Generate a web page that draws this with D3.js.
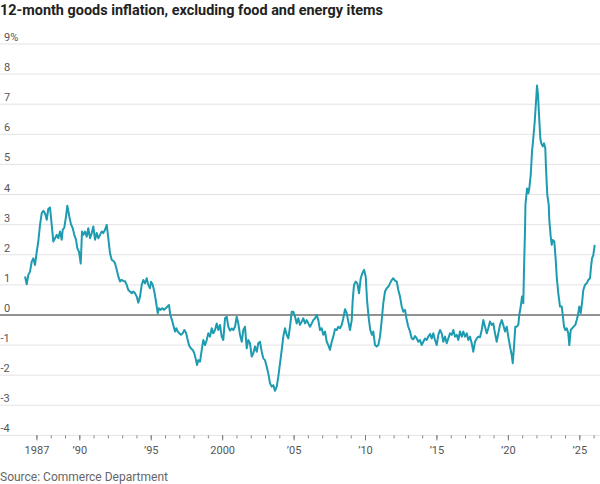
<!DOCTYPE html>
<html>
<head>
<meta charset="utf-8">
<script src="https://cdn.jsdelivr.net/npm/d3@7"></script>
<style>
  html, body { margin: 0; padding: 0; background: #fff; }
  svg { display: block; }
  text { font-family: Roboto, "Noto Sans", sans-serif; }
</style>
</head>
<body>
<svg id="chart" width="600" height="484"></svg>
<script>
// ---- Data ----
const title = "12-month goods inflation, excluding food and energy items";
const source = "Source: Commerce Department";

const yTicks = [9, 8, 7, 6, 5, 4, 3, 2, 1, 0, -1, -2, -3, -4];
const xLabelYears = [1987, 1990, 1995, 2000, 2005, 2010, 2015, 2020, 2025];
const xLabels = ["1987", "’90", "’95", "2000", "’05", "’10", "’15", "’20", "’25"];
const minorYears = d3.range(1987, 2027);

const dates = [
1986.20,1986.32,1986.43,1986.55,1986.67,1986.78,1986.90,1987.02,1987.13,1987.25,
1987.37,1987.48,1987.60,1987.72,1987.83,1987.95,1988.07,1988.18,1988.30,1988.42,
1988.53,1988.65,1988.77,1988.84,1988.95,1989.07,1989.16,1989.30,1989.42,1989.54,
1989.65,1989.77,1989.86,1989.98,1990.10,1990.19,1990.28,1990.40,1990.52,1990.63,
1990.75,1990.87,1990.98,1991.10,1991.22,1991.33,1991.45,1991.57,1991.68,1991.80,
1991.92,1992.03,1992.15,1992.27,1992.38,1992.50,1992.62,1992.73,1992.85,1992.97,
1993.08,1993.20,1993.32,1993.43,1993.55,1993.67,1993.78,1993.90,1994.02,1994.13,
1994.25,1994.37,1994.48,1994.60,1994.72,1994.83,1994.95,1995.02,1995.14,1995.25,
1995.37,1995.49,1995.58,1995.70,1995.81,1995.93,1996.05,1996.16,1996.28,1996.37,
1996.49,1996.61,1996.70,1996.79,1996.89,1997.00,1997.12,1997.24,1997.35,1997.47,
1997.59,1997.70,1997.82,1997.94,1998.05,1998.17,1998.24,1998.33,1998.45,1998.57,
1998.68,1998.80,1998.92,1999.03,1999.15,1999.27,1999.38,1999.50,1999.62,1999.73,
1999.85,1999.97,2000.08,2000.20,2000.32,2000.43,2000.55,2000.67,2000.78,2000.90,
2001.02,2001.13,2001.25,2001.37,2001.48,2001.60,2001.72,2001.83,2001.95,2002.07,
2002.18,2002.30,2002.42,2002.53,2002.65,2002.77,2002.88,2003.00,2003.12,2003.23,
2003.35,2003.47,2003.58,2003.70,2003.82,2003.93,2004.05,2004.17,2004.28,2004.40,
2004.52,2004.63,2004.75,2004.87,2004.98,2005.10,2005.22,2005.33,2005.45,2005.57,
2005.68,2005.80,2005.92,2006.03,2006.15,2006.27,2006.38,2006.50,2006.62,2006.73,
2006.85,2006.97,2007.08,2007.20,2007.32,2007.43,2007.55,2007.67,2007.78,2007.90,
2008.02,2008.13,2008.25,2008.37,2008.48,2008.60,2008.72,2008.83,2008.95,2009.07,
2009.14,2009.23,2009.35,2009.46,2009.58,2009.70,2009.81,2009.93,2010.05,2010.14,
2010.26,2010.37,2010.49,2010.58,2010.70,2010.82,2010.93,2011.05,2011.17,2011.28,
2011.40,2011.52,2011.63,2011.75,2011.87,2011.98,2012.10,2012.22,2012.33,2012.45,
2012.57,2012.68,2012.80,2012.92,2013.03,2013.15,2013.27,2013.38,2013.50,2013.62,
2013.73,2013.85,2013.97,2014.08,2014.20,2014.32,2014.43,2014.55,2014.67,2014.78,
2014.90,2015.02,2015.13,2015.25,2015.37,2015.48,2015.60,2015.72,2015.83,2015.95,
2016.07,2016.18,2016.30,2016.42,2016.53,2016.65,2016.77,2016.88,2017.00,2017.12,
2017.23,2017.35,2017.47,2017.58,2017.70,2017.82,2017.93,2018.05,2018.17,2018.28,
2018.40,2018.52,2018.63,2018.75,2018.87,2018.98,2019.10,2019.22,2019.33,2019.45,
2019.57,2019.68,2019.80,2019.92,2020.03,2020.15,2020.27,2020.34,2020.43,2020.52,
2020.62,2020.73,2020.80,2020.90,2020.99,2021.08,2021.13,2021.20,2021.23,2021.34,
2021.43,2021.50,2021.60,2021.69,2021.78,2021.88,2021.97,2022.04,2022.11,2022.18,
2022.27,2022.34,2022.44,2022.53,2022.62,2022.67,2022.76,2022.86,2022.90,2023.00,
2023.07,2023.14,2023.25,2023.35,2023.42,2023.53,2023.65,2023.77,2023.84,2023.93,
2024.02,2024.12,2024.23,2024.30,2024.40,2024.51,2024.63,2024.72,2024.82,2024.91,
2025.00,2025.10,2025.19,2025.28,2025.40,2025.52,2025.63,2025.75,2025.82,2025.89,
2025.98,2026.08
];

const values = [
1.28,1.02,1.33,1.44,1.77,1.88,1.66,2.10,2.44,2.99,
3.38,3.46,3.38,3.16,3.52,3.57,2.99,2.44,2.55,2.66,
2.55,2.77,2.50,2.83,2.90,3.27,3.63,3.27,3.01,2.88,
2.66,2.50,2.22,2.10,1.71,2.77,2.66,2.77,2.60,2.88,
2.55,2.72,2.94,2.50,2.72,2.55,2.66,2.77,2.72,2.83,
2.99,2.55,2.05,1.83,1.80,1.72,1.50,1.28,1.11,1.17,
1.13,1.12,1.00,0.83,0.78,0.72,0.78,0.72,0.61,0.41,
0.61,1.00,1.16,1.05,1.22,1.00,0.89,1.10,1.00,0.78,
0.44,0.06,0.22,0.17,0.22,0.17,0.22,0.28,0.33,0.00,
-0.17,-0.39,-0.55,-0.44,-0.55,-0.61,-0.66,-0.61,-0.50,-0.59,
-0.83,-1.03,-1.11,-1.16,-1.27,-1.50,-1.66,-1.50,-1.55,-1.16,
-0.83,-1.00,-0.83,-0.61,-0.72,-0.44,-0.61,-0.50,-0.28,-0.50,
-0.33,-0.72,-0.83,-0.11,-0.06,-0.39,-0.52,-0.45,-0.50,-0.39,
-0.06,-0.28,-0.66,-0.89,-0.50,-0.39,-1.11,-0.83,-0.94,-1.38,
-1.27,-1.05,-1.22,-0.94,-0.89,-1.22,-1.44,-1.50,-1.72,-1.94,
-2.27,-2.38,-2.33,-2.52,-2.38,-2.05,-1.61,-1.16,-0.72,-0.44,
-0.66,-0.78,-0.39,0.11,0.11,-0.06,-0.28,-0.11,-0.33,-0.22,
-0.11,-0.28,-0.17,-0.28,-0.39,-0.28,-0.17,-0.11,0.00,-0.17,
-0.50,-0.44,-0.66,-0.55,-0.89,-1.00,-1.16,-0.89,-0.72,-0.47,
-0.50,-0.39,-0.44,-0.33,-0.11,0.19,0.06,-0.22,-0.50,-0.17,
0.50,1.00,1.11,1.05,0.72,1.22,1.38,1.50,1.27,0.50,
-0.11,-0.50,-0.66,-0.55,-1.00,-1.05,-1.00,-0.72,-0.17,0.39,
0.78,0.89,0.94,1.05,1.16,1.22,1.14,1.11,0.83,0.61,
0.28,0.11,0.17,-0.17,-0.39,-0.55,-0.78,-0.81,-0.70,-0.78,
-0.89,-0.83,-1.00,-0.89,-0.78,-0.83,-0.72,-0.63,-0.78,-0.61,
-0.83,-1.00,-0.66,-0.50,-0.61,-0.89,-0.72,-0.94,-0.78,-0.61,
-0.66,-0.50,-0.72,-0.66,-0.83,-0.55,-0.72,-0.55,-0.72,-0.61,
-0.83,-0.72,-0.94,-1.22,-0.89,-0.78,-0.72,-0.74,-0.50,-0.17,
-0.39,-0.61,-0.44,-0.22,-0.33,-0.28,-0.61,-0.89,-0.61,-0.33,
-0.17,-0.33,-0.55,-0.39,-0.72,-1.05,-1.33,-1.60,-1.05,-0.39,
-0.39,-0.33,0.00,0.28,0.61,0.39,1.50,2.82,3.66,4.20,
4.04,4.20,4.65,5.43,5.87,6.42,7.09,7.62,7.31,6.65,
5.87,5.70,5.60,5.70,5.54,4.87,3.99,3.66,3.16,2.60,
2.33,2.49,2.44,1.83,1.27,0.72,0.28,0.28,0.00,-0.39,
-0.50,-0.44,-0.61,-1.00,-0.50,-0.44,-0.37,-0.33,-0.17,0.00,
0.28,0.06,0.39,0.83,1.00,1.05,1.16,1.22,1.60,1.88,
1.99,2.33
];

// ---- Chart ----
const svg = d3.select("#chart");
const W = 600;

const x = d3.scaleLinear().domain([1990, 2025]).range([79.3, 579.3]);
const y = d3.scaleLinear().domain([-4, 9]).range([435.4, 44]);

// title
svg.append("text")
  .attr("x", 0).attr("y", 15)
  .attr("font-size", 15).attr("font-weight", 700)
  .attr("fill", "#222")
  .attr("textLength", 383).attr("lengthAdjust", "spacingAndGlyphs")
  .text(title);

// gridlines
svg.append("g").selectAll("line").data(yTicks).join("line")
  .attr("x1", 0).attr("x2", W)
  .attr("y1", d => y(d)).attr("y2", d => y(d))
  .attr("stroke", d => d === 0 ? "#6e6e6e" : "#e3e3e3")
  .attr("stroke-width", d => d === 0 ? 1.4 : 1);

// y labels
svg.append("g").selectAll("text").data(yTicks).join("text")
  .attr("x", d => d < 0 ? 0.5 : 4)
  .attr("y", d => y(d) - 3)
  .attr("font-size", 11).attr("fill", "#555")
  .text((d, i) => i === 0 ? d + "%" : d);

// x axis: minor ticks
const axisG = svg.append("g").attr("transform", `translate(0,${y(-4)})`);
axisG.call(d3.axisBottom(x).tickValues(minorYears).tickSize(3).tickFormat(""))
  .call(g => g.select(".domain").remove())
  .call(g => g.selectAll(".tick line").attr("stroke", "#888"));

// x axis: labelled ticks
const labelG = svg.append("g").attr("transform", `translate(0,${y(-4)})`);
labelG.call(d3.axisBottom(x).tickValues(xLabelYears).tickSize(5).tickPadding(6)
    .tickFormat((d, i) => xLabels[i]))
  .call(g => g.select(".domain").remove())
  .call(g => g.selectAll(".tick line").attr("stroke", "#777"))
  .call(g => g.selectAll(".tick text")
      .attr("font-size", 11).attr("fill", "#555")
      .attr("font-family", "Roboto, 'Noto Sans', sans-serif"));

// line
const data = dates.map((d, i) => [d, values[i]]);
svg.append("path")
  .datum(data)
  .attr("fill", "none")
  .attr("stroke", "#1d9bb0")
  .attr("stroke-width", 2)
  .attr("stroke-linejoin", "round")
  .attr("d", d3.line().x(d => x(d[0])).y(d => y(d[1])));

// source
svg.append("text")
  .attr("x", 0).attr("y", 481)
  .attr("font-size", 12).attr("fill", "#666")
  .text(source);
</script>
</body>
</html>
